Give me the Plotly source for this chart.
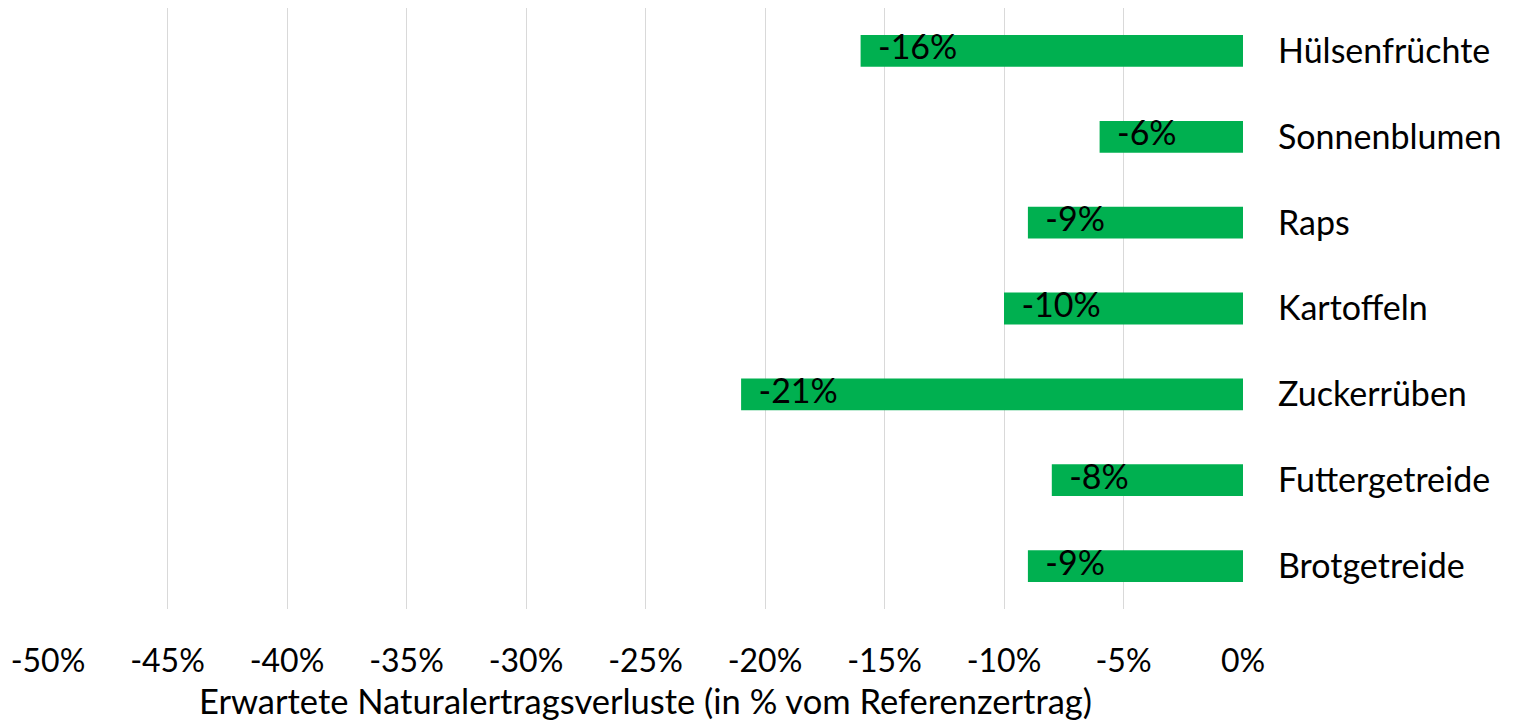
import plotly.graph_objects as go

categories = ["Brotgetreide", "Futtergetreide", "Zuckerrüben", "Kartoffeln", "Raps", "Sonnenblumen", "Hülsenfrüchte"]
values = [-9, -8, -21, -10, -9, -6, -16]
labels = ["-9%", "-8%", "-21%", "-10%", "-9%", "-6%", "-16%"]
tick_vals = [-50, -45, -40, -35, -30, -25, -20, -15, -10, -5, 0]
tick_text = ["-50%", "-45%", "-40%", "-35%", "-30%", "-25%", "-20%", "-15%", "-10%", "-5%", "0%"]
x_title = "Erwartete Naturalertragsverluste (in % vom Referenzertrag)"

FONT = "Lato"
fig = go.Figure()
fig.add_trace(go.Bar(
    x=values, y=categories, orientation="h",
    marker=dict(color="#00b050", line=dict(width=0)),
    width=0.37, hoverinfo="skip",
))
fig.add_trace(go.Scatter(
    x=values, y=categories, mode="text",
    text=["\u00a0\u00a0" + t for t in labels],
    textposition="middle right",
    textfont=dict(family=FONT, size=34, color="#000000"),
    hoverinfo="skip",
))
fig.update_layout(
    width=1521, height=713,
    margin=dict(l=40, r=286, t=0, b=112),
    paper_bgcolor="white", plot_bgcolor="white",
    showlegend=False,
    font=dict(family=FONT, size=34, color="#000000"),
    xaxis=dict(
        range=[-50, 0], tickvals=tick_vals, ticktext=tick_text,
        showgrid=True, gridcolor="#d9d9d9", gridwidth=1.3,
        zeroline=False, showline=False, ticks="",
        ticklabelstandoff=30,
        tickfont=dict(family=FONT, size=32),
        title=dict(text=x_title, font=dict(family=FONT, size=34.5), standoff=11),
    ),
    yaxis=dict(
        side="right", categoryorder="array", categoryarray=categories,
        range=[-0.5, 6.5], showgrid=False, zeroline=False, showline=False,
        ticks="", ticklabelstandoff=34,
        tickfont=dict(family=FONT, size=34),
    ),
)
fig.write_html("out.html")
